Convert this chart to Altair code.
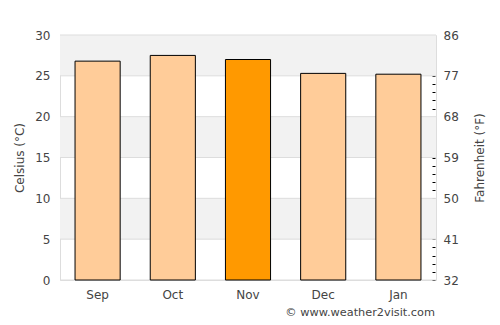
import altair as alt
import pandas as pd

months = ["Sep", "Oct", "Nov", "Dec", "Jan"]
celsius = [26.8, 27.5, 27.0, 25.3, 25.2]
highlight = [False, False, True, False, False]

band_low = [5, 15, 25]
band_high = [10, 20, 30]
grid_vals = [0, 5, 10, 15, 20, 25, 30]
right_ticks = list(range(0, 31))

bars_df = pd.DataFrame({"month": months, "c": celsius, "hl": highlight})
bands_df = pd.DataFrame({"lo": band_low, "hi": band_high})
grid_df = pd.DataFrame({"g": grid_vals})
note_df = pd.DataFrame({"t": ["© www.weather2visit.com"]})

FONT = "DejaVu Sans"
TXT = "#444444"
ydom = alt.Scale(domain=[0, 30], nice=False, zero=True)

left_axis = alt.Axis(values=grid_vals, tickSize=0, domain=False, grid=False,
                     labelPadding=10, labelFont=FONT, labelFontSize=12,
                     labelColor=TXT, titleFont=FONT, titleFontSize=12,
                     titleFontWeight="normal", titleColor=TXT,
                     titlePadding=8)
LT = "Celsius (°C)"

bands = alt.Chart(bands_df).mark_rect(color="#f2f2f2").encode(
    y=alt.Y("lo:Q", scale=ydom, title=LT, axis=left_axis),
    y2="hi:Q",
)

grid = alt.Chart(grid_df).mark_rule(color="#dddddd", strokeWidth=1).encode(
    y=alt.Y("g:Q", scale=ydom, title=LT, axis=left_axis)
)

bars = alt.Chart(bars_df).mark_bar(stroke="black", strokeWidth=1).encode(
    x=alt.X("month:N", sort=months, title=None,
            scale=alt.Scale(paddingInner=0.4, paddingOuter=0.2),
            axis=alt.Axis(labelAngle=0, tickSize=0, domain=False, labelPadding=9,
                          labelFont=FONT, labelFontSize=12, labelColor=TXT)),
    y=alt.Y("c:Q", scale=ydom, title=LT, axis=left_axis),
    color=alt.Color("hl:N", scale=alt.Scale(domain=[False, True],
                                            range=["#ffcc99", "#ff9900"]),
                    legend=None),
)

right = alt.Chart(bars_df).mark_rule(opacity=0).encode(
    y=alt.Y("c:Q", scale=ydom, title="Fahrenheit (°F)",
            axis=alt.Axis(orient="right", values=right_ticks, tickSize=3,
                          tickColor="#000000", domain=False, grid=False, offset=-4,
                          labelPadding=8,
                          labelExpr="datum.value % 5 == 0 ? format(datum.value*1.8+32, 'd') : ''",
                          labelFont=FONT, labelFontSize=12, labelColor=TXT,
                          labelOverlap=False,
                          titleFont=FONT, titleFontSize=12, titleFontWeight="normal",
                          titleColor=TXT, titleAngle=270, titleBaseline="top",
                          titlePadding=16)),
)

note = alt.Chart(note_df).mark_text(align="right", baseline="middle", font=FONT,
                                    fontSize=11.3, color=TXT).encode(
    text="t:N", x=alt.value(375), y=alt.value(278)
)

left_layer = alt.layer(bands, grid, bars)
chart = alt.layer(left_layer, right, note).resolve_scale(y="independent").properties(
    width=376, height=245,
    autosize=alt.AutoSizeParams(type="none"),
    padding={"left": 60, "top": 35, "right": 64, "bottom": 45},
).configure_view(stroke="#dddddd")

chart.save("out.html", embed_options={"renderer": "svg", "actions": False})
